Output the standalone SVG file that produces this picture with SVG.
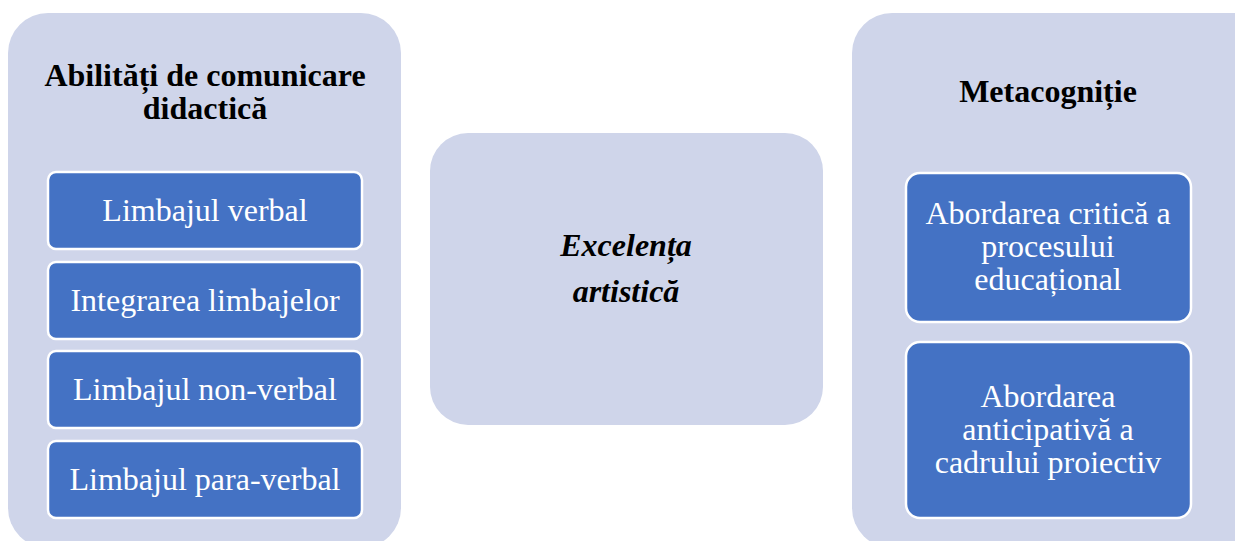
<svg xmlns="http://www.w3.org/2000/svg" width="1235" height="541" viewBox="0 0 1235 541">
<style>
.panel{fill:#CFD5EA;stroke:none}
.box{fill:#4472C4;stroke:#FFFFFF;stroke-width:2.5}
.t{font-family:"Liberation Serif","Times New Roman",serif;font-size:32px;text-anchor:middle}
.w{fill:#FFFFFF}
.b{font-weight:bold;fill:#000000}
.bi{font-weight:bold;font-style:italic;fill:#000000}
</style>
<rect width="1235" height="541" fill="#FFFFFF"/>
<g id="left-panel">
<rect class="panel" x="8" y="13" width="393" height="535" rx="40" ry="40"/>
<text class="t b" x="205" y="86">Abilități de comunicare</text>
<text class="t b" x="205" y="119">didactică</text>
</g>
<g id="limbajul-verbal">
<rect class="box" x="48" y="172" width="314" height="77" rx="8" ry="8"/>
<text class="t w" x="205" y="221">Limbajul verbal</text>
</g>
<g id="integrarea-limbajelor">
<rect class="box" x="48" y="262" width="314" height="77" rx="8" ry="8"/>
<text class="t w" x="205" y="311">Integrarea limbajelor</text>
</g>
<g id="limbajul-non-verbal">
<rect class="box" x="48" y="351" width="314" height="77" rx="8" ry="8"/>
<text class="t w" x="205" y="400">Limbajul non-verbal</text>
</g>
<g id="limbajul-para-verbal">
<rect class="box" x="48" y="441" width="314" height="77" rx="8" ry="8"/>
<text class="t w" x="205" y="490">Limbajul para-verbal</text>
</g>
<g id="center-panel">
<rect class="panel" x="430" y="133" width="393" height="292" rx="38" ry="38"/>
<text class="t bi" x="626" y="256">Excelența</text>
<text class="t bi" x="626" y="302">artistică</text>
</g>
<g id="right-panel">
<rect class="panel" x="852" y="13" width="420" height="535" rx="40" ry="40"/>
<text class="t b" x="1048" y="102">Metacogniție</text>
</g>
<g id="abordarea-critica">
<rect class="box" x="906" y="173" width="285" height="149" rx="14" ry="14"/>
<text class="t w" x="1048" y="224">Abordarea critică a</text>
<text class="t w" x="1048" y="257">procesului</text>
<text class="t w" x="1048" y="290">educațional</text>
</g>
<g id="abordarea-anticipativa">
<rect class="box" x="906" y="342" width="285" height="176" rx="14" ry="14"/>
<text class="t w" x="1048" y="407">Abordarea</text>
<text class="t w" x="1048" y="440">anticipativă a</text>
<text class="t w" x="1048" y="473">cadrului proiectiv</text>
</g>
<g id="connectors"></g>
</svg>
